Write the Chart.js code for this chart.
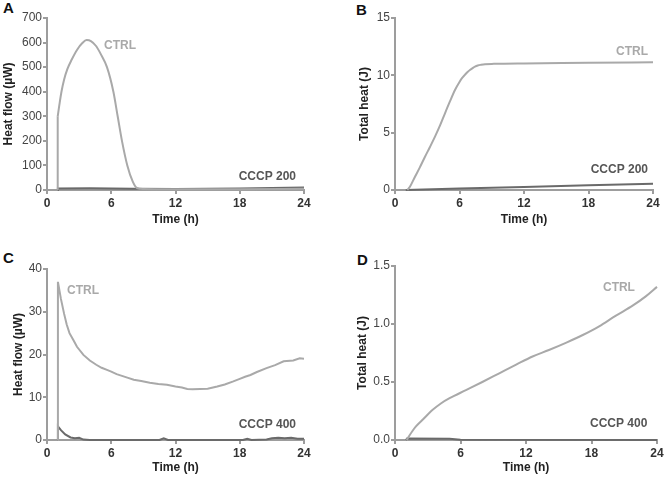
<!DOCTYPE html>
<html><head><meta charset="utf-8">
<script src="https://cdn.jsdelivr.net/npm/chart.js@4"></script>
<style>
body{margin:0;background:#fff;width:667px;height:479px;position:relative;overflow:hidden;font-family:"Liberation Sans",Arial,sans-serif}
.p{position:absolute}
.lt{position:absolute;font-weight:bold;font-size:15px;color:#111;line-height:15px}
</style></head><body>
<div class="lt" style="left:3px;top:0px">A</div>
<div class="lt" style="left:356px;top:2px">B</div>
<div class="lt" style="left:3px;top:250px">C</div>
<div class="lt" style="left:357px;top:252px">D</div>
<div class="p" style="left:0;top:0;width:333px;height:240px"><canvas id="cA"></canvas></div>
<div class="p" style="left:333px;top:0;width:334px;height:240px"><canvas id="cB"></canvas></div>
<div class="p" style="left:0;top:240px;width:333px;height:239px"><canvas id="cC"></canvas></div>
<div class="p" style="left:333px;top:240px;width:334px;height:239px"><canvas id="cD"></canvas></div>
<script>
// ---- data ----
const xTicks = [0, 6, 12, 18, 24];

// A: heat flow (µW), CTRL and CCCP 200
const A_ctrl_jump_t = [1, 1];
const A_ctrl_jump_v = [0, 300];
const A_ctrl_t = [1, 1.15, 1.35, 1.6, 1.9, 2.3, 2.8, 3.3, 3.7, 4.1, 4.6, 5.0, 5.6, 6.2, 6.6, 7.0, 7.5, 8.0, 8.4, 9, 12, 18, 24];
const A_ctrl_v = [300, 345, 400, 450, 492, 530, 570, 598, 610, 606, 585, 555, 500, 400, 300, 200, 100, 35, 8, 4, 3, 3, 5];
const A_cccp_t = [1, 1.02, 4, 8, 12, 18, 24];
const A_cccp_v = [0, 6, 7, 5, 4, 6, 10];

// B: total heat (J), CTRL and CCCP 200
const B_ctrl_t = [1.15, 1.4, 1.86, 2.3, 2.79, 3.25, 3.72, 4.2, 4.65, 5.1, 5.58, 6.0, 6.25, 6.5, 6.75, 7.0, 7.25, 7.44, 7.7, 8.0, 8.37, 9.2, 12, 18, 24];
const B_ctrl_v = [0, 0.3, 1.16, 1.95, 2.9, 3.75, 4.65, 5.65, 6.69, 7.7, 8.72, 9.42, 9.77, 10.04, 10.29, 10.49, 10.65, 10.76, 10.86, 10.92, 10.97, 11.0, 11.04, 11.09, 11.15];
const B_cccp_t = [1, 6, 12, 18, 24];
const B_cccp_v = [0, 0.12, 0.27, 0.42, 0.55];

// C: heat flow (µW), CTRL and CCCP 400
const C_ctrl_t = [1, 1.02, 1.3, 1.6, 1.84, 2.1, 2.46, 2.8, 3.4, 4.0, 4.6, 5.1, 5.6, 6.0, 6.5, 7.0, 7.5, 8.1, 8.8, 9.6, 10.4, 11.2, 12.0, 12.6, 13.1, 13.6, 14.3, 15.0, 15.9, 16.6, 17.4, 18.0, 18.5, 19.0, 19.6, 20.5, 21.3, 22.1, 23.0, 23.6, 24];
const C_ctrl_v = [0, 37, 33, 29.5, 27, 25, 23.4, 21.8, 19.9, 18.6, 17.6, 16.9, 16.4, 16.0, 15.4, 15.0, 14.6, 14.1, 13.8, 13.4, 13.1, 12.9, 12.5, 12.3, 11.95, 11.9, 11.95, 12.0, 12.5, 13.0, 13.7, 14.3, 14.8, 15.2, 15.9, 16.8, 17.5, 18.4, 18.6, 19.1, 19.0];
const C_cccp_t = [1, 1.02, 1.3, 1.7, 2.2, 2.6, 3.0, 3.4, 4, 10.5, 10.9, 11.3, 18.3, 18.7, 19.1, 20.5, 21.0, 21.6, 22.2, 22.8, 23.4, 24];
const C_cccp_v = [0, 3.2, 2.3, 1.3, 0.6, 0.4, 0.5, 0.1, 0, 0, 0.4, 0, 0, 0.3, 0, 0.1, 0.4, 0.5, 0.4, 0.5, 0.3, 0.3];

// D: total heat (J), CTRL and CCCP 400
const D_ctrl_t = [1.07, 1.3, 1.6, 1.9, 2.5, 3.0, 3.45, 4.2, 5.0, 6.5, 8.0, 9.55, 11.1, 12.6, 14.1, 15.7, 17.2, 18.7, 20.2, 21.8, 23, 24];
const D_ctrl_v = [0, 0.035, 0.078, 0.115, 0.172, 0.22, 0.26, 0.315, 0.36, 0.43, 0.50, 0.575, 0.65, 0.72, 0.776, 0.84, 0.905, 0.98, 1.07, 1.16, 1.24, 1.32];
const D_cccp_t = [1, 1.1, 5, 6, 24];
const D_cccp_v = [0, 0.012, 0.01, 0.002, 0.001];

// ---- style ----
const CTRL_COL = '#a9a9a9';
const CCCP_COL = '#6a6a6a';
const AXIS_COL = '#9d9d9d';
const FONT = '"Liberation Sans", Arial, sans-serif';

function pts(t, v) { return t.map((x, i) => ({x: x, y: v[i]})); }

const labelPlugin = {
  id: 'seriesLabels',
  afterDatasetsDraw(chart) {
    const labs = chart.options.plugins.seriesLabels.items || [];
    const ctx = chart.ctx;
    ctx.save();
    ctx.font = 'bold 12px ' + FONT;
    ctx.textBaseline = 'middle';
    ctx.textAlign = 'left';
    labs.forEach(l => {
      ctx.fillStyle = l.color;
      ctx.fillText(l.text, chart.scales.x.getPixelForValue(l.x), chart.scales.y.getPixelForValue(l.y));
    });
    ctx.restore();
  }
};

function makeChart(id, cfg) {
  const {W, H, L, R, T, B, padL, padB, yMax, yStep, yTitle, yFmt, ctrl, ctrlJump, cccp, smoothC, labels} = cfg;
  const yW = L - padL;
  const xH = H - padB - B;
  const sets = [
    {data: ctrl, borderColor: CTRL_COL, borderWidth: 2, pointRadius: 0, fill: false,
     cubicInterpolationMode: smoothC ? 'monotone' : 'default', tension: 0, clip: false},
    {data: cccp, borderColor: CCCP_COL, borderWidth: 2, pointRadius: 0, fill: false,
     tension: 0, clip: false}
  ];
  if (ctrlJump) sets.unshift({data: ctrlJump, borderColor: CTRL_COL, borderWidth: 2, pointRadius: 0, fill: false, tension: 0, clip: false});
  new Chart(document.getElementById(id), {
    type: 'line',
    data: {datasets: sets},
    options: {
      responsive: true, maintainAspectRatio: false, animation: false,
      layout: {padding: {left: padL, top: T, right: W - R, bottom: padB}},
      plugins: {legend: {display: false}, tooltip: {enabled: false}, seriesLabels: {items: labels}},
      scales: {
        x: {
          type: 'linear', min: 0, max: 24,
          afterBuildTicks: s => { s.ticks = xTicks.map(v => ({value: v})); },
          afterFit: s => { s.height = xH; },
          border: {color: AXIS_COL, width: 2},
          grid: {drawOnChartArea: false, drawTicks: true, tickLength: 4, color: AXIS_COL, lineWidth: 2},
          ticks: {padding: 2, color: '#333', font: {family: FONT, size: 12, weight: 'bold'}, maxRotation: 0},
          title: {display: true, text: 'Time (h)', color: '#222', padding: 0, font: {family: FONT, size: 12, weight: 'bold', lineHeight: 1.2}}
        },
        y: {
          type: 'linear', min: 0, max: yMax,
          ticks: {stepSize: yStep, padding: 1, color: '#444', font: {family: FONT, size: 12},
                  callback: v => yFmt ? v.toFixed(1) : String(v)},
          afterFit: s => { s.width = yW; },
          border: {color: AXIS_COL, width: 2},
          grid: {drawOnChartArea: false, drawTicks: true, tickLength: 4, color: AXIS_COL, lineWidth: 2},
          title: {display: true, text: yTitle, color: '#222', padding: 0, font: {family: FONT, size: 12, weight: 'bold', lineHeight: 1.2}}
        }
      }
    },
    plugins: [labelPlugin]
  });
}

makeChart('cA', {W: 333, H: 240, L: 47, R: 304, T: 18, B: 190, padL: 1, padB: 12.8,
  yMax: 700, yStep: 100, yTitle: 'Heat flow (µW)', yFmt: false, smoothC: true,
  ctrl: pts(A_ctrl_t, A_ctrl_v), ctrlJump: pts(A_ctrl_jump_t, A_ctrl_jump_v), cccp: pts(A_cccp_t, A_cccp_v),
  labels: [{text: 'CTRL', x: 5.32, y: 586, color: CTRL_COL}, {text: 'CCCP 200', x: 17.9, y: 53, color: '#555'}]});

makeChart('cB', {W: 334, H: 240, L: 62, R: 320, T: 18, B: 190, padL: 24, padB: 12.8,
  yMax: 15, yStep: 5, yTitle: 'Total heat (J)', yFmt: false, smoothC: true,
  ctrl: pts(B_ctrl_t, B_ctrl_v), cccp: pts(B_cccp_t, B_cccp_v),
  labels: [{text: 'CTRL', x: 20.56, y: 12.1, color: CTRL_COL}, {text: 'CCCP 200', x: 18.2, y: 1.74, color: '#555'}]});

makeChart('cC', {W: 333, H: 239, L: 47, R: 304, T: 29, B: 200, padL: 11, padB: 4,
  yMax: 40, yStep: 10, yTitle: 'Heat flow (µW)', yFmt: false, smoothC: false,
  ctrl: pts(C_ctrl_t, C_ctrl_v), cccp: pts(C_cccp_t, C_cccp_v),
  labels: [{text: 'CTRL', x: 1.87, y: 34.9, color: CTRL_COL}, {text: 'CCCP 400', x: 17.9, y: 3.5, color: '#555'}]});

makeChart('cD', {W: 334, H: 239, L: 62, R: 324, T: 26, B: 200, padL: 22.5, padB: 4,
  yMax: 1.5, yStep: 0.5, yTitle: 'Total heat (J)', yFmt: true, smoothC: true,
  ctrl: pts(D_ctrl_t, D_ctrl_v), cccp: pts(D_cccp_t, D_cccp_v),
  labels: [{text: 'CTRL', x: 19.05, y: 1.31, color: CTRL_COL}, {text: 'CCCP 400', x: 17.86, y: 0.138, color: '#555'}]});
</script>
</body></html>
